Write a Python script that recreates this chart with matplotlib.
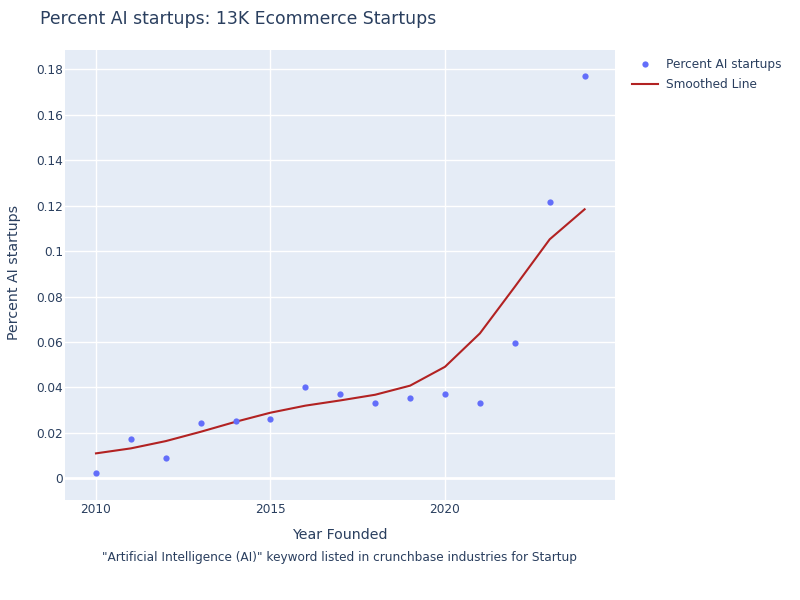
import matplotlib
matplotlib.use("Agg")
import matplotlib.pyplot as plt
from matplotlib.ticker import FuncFormatter
from matplotlib.lines import Line2D

years = [2010, 2011, 2012, 2013, 2014, 2015, 2016, 2017, 2018, 2019, 2020, 2021, 2022, 2023, 2024]
pct_ai = [0.0022, 0.0172, 0.0091, 0.0242, 0.0252, 0.0261, 0.0402, 0.0372, 0.0333, 0.0355,
          0.0371, 0.0331, 0.0596, 0.1216, 0.1771]
smoothed = [0.0110, 0.0132, 0.0164, 0.0205, 0.0249, 0.0289, 0.0320, 0.0343, 0.0368, 0.0408,
            0.0491, 0.0638, 0.0843, 0.1052, 0.1184]
x_ticks = [2010, 2015, 2020]
y_ticks = [0, 0.02, 0.04, 0.06, 0.08, 0.1, 0.12, 0.14, 0.16, 0.18]

TXT = "#2a3f5f"
plt.rcParams['font.family'] = ['DejaVu Sans']

fig = plt.figure(figsize=(8, 6), dpi=100)
ax = fig.add_axes([65 / 800, 1 - 499.5 / 600, 550 / 800, 449.5 / 600])
ax.set_facecolor("#e5ecf6")
for s in ax.spines.values():
    s.set_visible(False)

ax.set_xlim(2009.112, 2024.871)
ax.set_ylim(-0.0093, 0.1885)
ax.set_xticks(x_ticks)
ax.set_yticks(y_ticks)
ax.yaxis.set_major_formatter(FuncFormatter(lambda v, p: f"{v:g}"))
ax.grid(True, color="white", linewidth=1)
ax.set_axisbelow(True)
ax.axhline(0, color="white", linewidth=2, zorder=0.5)
ax.tick_params(axis='y', length=0, labelsize=8.75, colors=TXT, pad=1.5)
ax.tick_params(axis='x', length=0, labelsize=8.75, colors=TXT, pad=2.5)

ax.plot(years, pct_ai, 'o', color="#636efa", markersize=4.5, markeredgewidth=0, zorder=3)
ax.plot(years, smoothed, '-', color="#b22222", linewidth=1.5, zorder=2)

fig.text(340 / 800, 1 - 535 / 600, "Year Founded", fontsize=10.2, color=TXT,
         ha="center", va="center")
fig.text(14 / 800, 1 - 272 / 600, "Percent AI startups", fontsize=10.2, color=TXT,
         ha="center", va="center", rotation=90)

fig.text(40 / 800, 1 - 19 / 600, "Percent AI startups: 13K Ecommerce Startups",
         fontsize=12.4, color=TXT, va="center", ha="left")
fig.text(340 / 800, 1 - 558 / 600,
         '"Artificial Intelligence (AI)" keyword listed in crunchbase industries for Startup',
         fontsize=8.75, color=TXT, ha="center", va="center")

handles = [Line2D([], [], marker='o', linestyle='none', color="#636efa", markersize=4.5, markeredgewidth=0),
           Line2D([], [], color="#b22222", linewidth=1.5)]
fig.legend(handles, ["Percent AI startups", "Smoothed Line"], loc="upper left",
           bbox_to_anchor=(632 / 800, 1 - 58 / 600), frameon=False, fontsize=8.75,
           labelcolor=TXT, handlelength=2.14, handletextpad=0.66, labelspacing=0.6,
           borderaxespad=0, borderpad=0)

fig.savefig("out.png", dpi=100)
